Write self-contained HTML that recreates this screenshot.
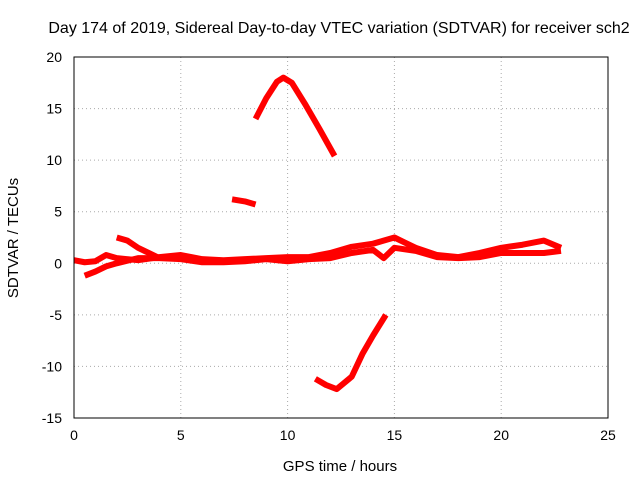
<!DOCTYPE html>
<html><head><meta charset="utf-8"><style>
body{margin:0;background:#fff}
svg{display:block;font-family:"Liberation Sans",sans-serif}
</style></head><body>
<svg id="chart" width="640" height="480" viewBox="0 0 640 480">
<rect width="640" height="480" fill="#fff"/>
<text x="339" y="33" font-size="16" text-anchor="middle">Day 174 of 2019, Sidereal Day-to-day VTEC variation (SDTVAR) for receiver sch2</text>
<g id="grid"></g>
<g id="ticks"></g>
<g id="series"></g>
<rect x="74" y="57" width="534" height="361" fill="none" stroke="#000" stroke-width="1"/>
<text x="340" y="471" font-size="15" text-anchor="middle">GPS time / hours</text>
<text transform="translate(18,238) rotate(-90)" font-size="15" text-anchor="middle">SDTVAR / TECUs</text>
</svg>
<script>
const xTicks=[0,5,10,15,20,25];
const yTicks=[-15,-10,-5,0,5,10,15,20];
const arcHighX=[8.5,9,9.5,9.8,10.2,10.8,11.5,12.2];
const arcHighY=[14,16,17.6,18,17.5,15.5,13,10.4];
const shortX=[7.4,8,8.5];
const shortY=[6.2,6,5.7];
const arcLowX=[11.3,11.8,12.3,13,13.5,14,14.6];
const arcLowY=[-11.2,-11.8,-12.2,-11,-8.8,-7,-5];
const band1X=[0,0.5,1,1.5,2,3,4,5,6,7,8,9,10,11,12,13,14,15,15.5,16,17,18,19,20,21,22,22.8];
const band1Y=[0.3,0.1,0.2,0.8,0.5,0.3,0.6,0.8,0.4,0.3,0.4,0.5,0.6,0.6,1.0,1.6,1.9,2.5,2,1.5,0.8,0.6,1.0,1.5,1.8,2.2,1.5];
const band2X=[0.5,1,1.5,2,3,4,5,6,7,8,9,10,11,12,13,14,14.5,15,16,17,18,19,20,21,22,22.8];
const band2Y=[-1.2,-0.8,-0.3,0,0.5,0.5,0.4,0.1,0.1,0.2,0.4,0.2,0.4,0.5,1.0,1.3,0.5,1.5,1.2,0.6,0.5,0.6,1.0,1.0,1.0,1.2];
const band3X=[2,2.5,3,3.5,4];
const band3Y=[2.5,2.2,1.5,1.0,0.5];
const X0=74,X1=608,Y0=418,Y1=57;
const sx=v=>X0+(v-0)/25*(X1-X0);
const sy=v=>Y0-(v+15)/35*(Y0-Y1);
const NS="http://www.w3.org/2000/svg";
const grid=document.getElementById('grid'),ticks=document.getElementById('ticks'),ser=document.getElementById('series');
function mk(t,a,p){const e=document.createElementNS(NS,t);for(const k in a)e.setAttribute(k,a[k]);p.appendChild(e);return e;}
xTicks.forEach(v=>{
 if(v>0&&v<25){const g=mk('line',{x1:sx(v),x2:sx(v),y1:Y0,y2:Y1,stroke:'#aaa','stroke-dasharray':'1,3'},grid);
 
 }
 const t=mk('text',{x:sx(v),y:Y0+22,'font-size':14,'text-anchor':'middle'},ticks);t.textContent=v;
 
 
});
yTicks.forEach(v=>{
 if(v>-15&&v<20){const g=mk('line',{x1:X0,x2:X1,y1:sy(v),y2:sy(v),stroke:'#aaa','stroke-dasharray':'1,3'},grid);
 
 }
 const t=mk('text',{x:X0-12,y:sy(v)+5,'font-size':14,'text-anchor':'end'},ticks);t.textContent=v;
 
 
});
[[arcHighX,arcHighY,'track-high-arc'],[shortX,shortY,'track-short'],[arcLowX,arcLowY,'track-low-arc'],[band1X,band1Y,'track-band-upper'],[band2X,band2Y,'track-band-lower'],[band3X,band3Y,'track-band-early']].forEach(([xs,ys,n])=>{
 const pts=xs.map((x,i)=>sx(x)+','+sy(ys[i])).join(' ');
 const p=mk('polyline',{points:pts,fill:'none',stroke:'#f00','stroke-width':6,'stroke-linejoin':'round'},ser);
 
 
});
</script>
</body></html>
